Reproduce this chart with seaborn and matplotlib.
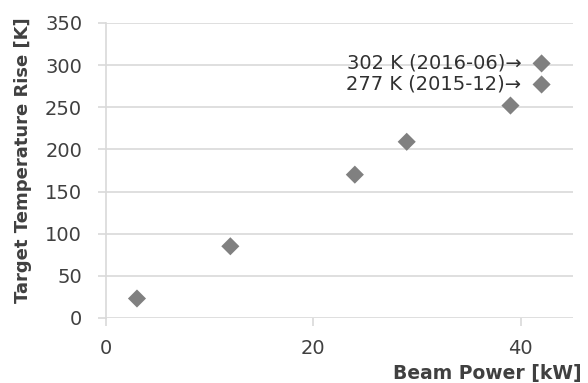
import matplotlib
matplotlib.use('Agg')
import matplotlib.pyplot as plt
import seaborn as sns
import pandas as pd

# Data
beam_power_kw = [3, 12, 24, 29, 39, 42, 42]
temp_rise_k = [23, 85, 170, 209, 252, 277, 302]

# Annotated points (index into the arrays above) and their labels
note_idx = [6, 5]
note_labels = ['302 K (2016-06)\u2192', '277 K (2015-12)\u2192']

x_ticks = [0, 20, 40]
y_ticks = [0, 50, 100, 150, 200, 250, 300, 350]

df = pd.DataFrame({'power': beam_power_kw, 'rise': temp_rise_k})

sns.set_style('white')
plt.rcParams['font.family'] = ['DejaVu Sans']

text_col = '#404040'
grid_col = '#d9d9d9'

fig = plt.figure(figsize=(5.88, 3.83), dpi=100)
ax = fig.add_axes([0.180, 0.170, 0.794, 0.770])

ax.set_axisbelow(True)
sns.scatterplot(data=df, x='power', y='rise', marker='D', s=85,
                color='#808080', edgecolor='none', ax=ax, zorder=3)

for i, lab in zip(note_idx, note_labels):
    ax.annotate(lab, xy=(beam_power_kw[i], temp_rise_k[i]), xytext=(-14.5, 0),
                textcoords='offset points', ha='right', va='center',
                fontsize=14, color='#303030')

ax.set_xlim(0, 45)
ax.set_ylim(0, 350)
ax.set_xticks(x_ticks)
ax.set_yticks(y_ticks)

ax.yaxis.grid(True, color=grid_col, linewidth=1.2)
ax.xaxis.grid(False)

for side in ['top', 'right', 'bottom']:
    ax.spines[side].set_visible(False)
ax.spines['left'].set_color(grid_col)
ax.spines['left'].set_linewidth(1.2)

ax.tick_params(axis='y', length=6, width=1.2, color=grid_col, pad=11,
               labelsize=14, labelcolor=text_col, left=True)
ax.tick_params(axis='x', length=6, width=1.2, color=grid_col, pad=9,
               labelsize=14, labelcolor=text_col, bottom=True)

ax.set_xlabel('Beam Power [kW]', fontsize=13.5, fontweight='bold', color=text_col)
ax.set_ylabel('Target Temperature Rise [K]', fontsize=13, fontweight='bold',
              color=text_col)
ax.xaxis.set_label_coords(1.02, -0.155)
ax.xaxis.label.set_horizontalalignment('right')
ax.yaxis.set_label_coords(-0.158, 0.535)

fig.savefig('out.png', dpi=100)
